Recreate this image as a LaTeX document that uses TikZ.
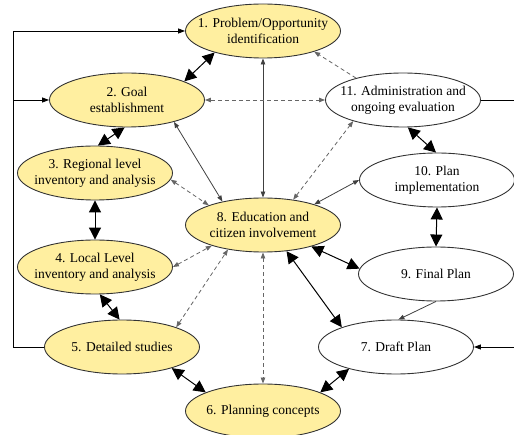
\documentclass[tikz,border=0pt]{standalone}
\usepackage{fontspec}
\setmainfont{Liberation Serif}
\usetikzlibrary{arrows.meta,shapes.geometric}
\definecolor{stageyellow}{RGB}{255,239,160}
\tikzset{
    mystage/.style={ellipse, draw=black!80, line width=0.9pt, fill=stageyellow,
      minimum width=155pt, minimum height=54pt, inner xsep=-20pt, inner ysep=-4pt,
      align=center, font=\fontsize{13.5}{16}\selectfont},
    mystagew/.style={mystage, fill=white},
    pil/.style={{Triangle[length=6pt,width=4.5pt]}-{Triangle[length=6pt,width=4.5pt]}, line width=0.8pt, draw=black!75},
    pilone/.style={pil, -{Triangle[length=6pt,width=4.5pt]}},
    pildash/.style={pil, draw=black!60, dash pattern=on 4pt off 3pt},
    pildashone/.style={pildash, -{Triangle[length=6pt,width=4.5pt]}},
    pilbig/.style={{Triangle[length=12pt,width=12pt]}-{Triangle[length=12pt,width=12pt]}, line width=1pt, draw=black},
    feedback/.style={-{Triangle[length=7pt,width=5pt]}, line width=0.8pt, draw=black}
}
\begin{document}
\begin{tikzpicture}[x=1pt, y=-1pt]
    \useasboundingbox (0,0) rectangle (514,435);
    % stages of the process
    \node[mystage] (problem) at (263,31) {1. Problem/Opportunity\\identification};
    \node[mystage] (goal) at (127,100) {2. Goal\\establishment};
    \node[mystage] (regional) at (95,173) {3. Regional level\\inventory and analysis};
    \node[mystage] (local) at (95,267) {4. Local Level\\inventory and analysis};
    \node[mystage] (studies) at (122,347) {5. Detailed studies};
    \node[mystage] (concepts) at (263,411) {6. Planning concepts};
    \node[mystagew] (draft) at (396,347) {7. Draft Plan};
    \node[mystage] (education) at (263,225) {8. Education and\\citizen involvement};
    \node[mystagew] (final) at (436,274) {9. Final Plan};
    \node[mystagew] (implementation) at (437,180) {10. Plan\\implementation};
    \node[mystagew] (admin) at (403,100) {11. Administration and\\ongoing evaluation};

    % feedback loops
    \coordinate (leftturn) at (13,347);
    \draw[feedback] (studies.west) -- (leftturn) |- (problem.west);
    \draw[feedback] (leftturn |- goal.west) -- (goal.west);
    \coordinate (rightturn) at (514,100);
    \draw[feedback] (admin.east) -- (rightturn) |- (draft.east);

    % main sequence
    \draw[pilbig] (goal.18) -- (problem.204);
    \draw[pilbig] (regional.84) -- (goal.265);
    \draw[pilbig] (regional.south) -- (local.north);
    \draw[pilbig] (local.280) -- (studies.95);
    \draw[pilbig] (studies.337) -- (concepts.162);
    \draw[pilbig] (concepts.18) -- (draft.205);
    \draw[pilbig] (education.312) -- (draft.160);
    \draw[pilbig] (education.336) -- (final.176);
    \draw[pilbig] (implementation.south) -- (final.north);
    \draw[pilbig] (admin.280) -- (implementation.92);

    % other links
    \draw[pilone] (final.south) -- (draft.85);
    \draw[pil] (problem.south) -- (education.north);
    \draw[pil] (goal.335) -- (education.150);
    \draw[pil] (education.22) -- (implementation.west);
    \draw[pildash] (goal.east) -- (admin.west);
    \draw[pildashone] (admin.155) -- (problem.338);
    \draw[pildash] (regional.355) -- (education.160);
    \draw[pildash] (local.east) -- (education.202);
    \draw[pildash] (studies.20) -- (education.215);
    \draw[pildash] (education.40) -- (admin.203);
    \draw[pildash] (education.south) -- (concepts.north);
\end{tikzpicture}
\end{document}
